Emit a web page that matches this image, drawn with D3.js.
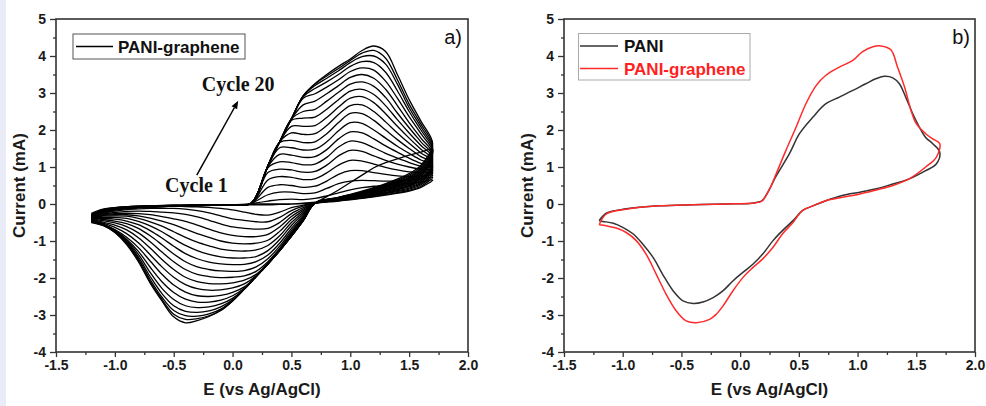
<!DOCTYPE html>
<html>
<head>
<meta charset="utf-8">
<script src="https://cdnjs.cloudflare.com/ajax/libs/d3/7.8.5/d3.min.js"></script>
<style>
  body { margin: 0; background: #fff; }
  svg text { font-family: "Liberation Sans", Arial, sans-serif; }
</style>
</head>
<body>
<div id="chart"></div>
<script>
// axis ticks
const xTicks = [-1.5, -1.0, -0.5, 0.0, 0.5, 1.0, 1.5, 2.0];
const xMinor = [-1.25, -0.75, -0.25, 0.25, 0.75, 1.25, 1.75];
const yTicks = [-4, -3, -2, -1, 0, 1, 2, 3, 4, 5];
const yMinor = [-3.5, -2.5, -1.5, -0.5, 0.5, 1.5, 2.5, 3.5, 4.5];

// panel a: 20 cycles, anodic sweep (fwdE) then cathodic sweep (revE)
const fwdE = [-1.2, -1.1, -1.0, -0.8, -0.5, 0.0, 0.15, 0.2, 0.3, 0.4, 0.5, 0.6, 0.7, 0.8, 0.9, 1.0, 1.1, 1.2, 1.3, 1.4, 1.5, 1.6, 1.7];
const revE = [1.6, 1.5, 1.3, 1.1, 0.9, 0.7, 0.6, 0.5, 0.4, 0.3, 0.2, 0.1, 0.0, -0.1, -0.2, -0.3, -0.4, -0.5, -0.6, -0.7, -0.8, -0.9, -1.0, -1.1, -1.2];

const cycleFwd = [
  [-0.25, -0.14, -0.1, -0.06, -0.04, -0.02, -0.01, 0.0, 0.0, 0.0, 0.0, 0.01, 0.04, 0.2, 0.38, 0.58, 0.78, 0.98, 1.12, 1.22, 1.32, 1.4, 1.48],
  [-0.28, -0.15, -0.1, -0.06, -0.04, -0.02, 0.0, 0.03, 0.08, 0.12, 0.13, 0.12, 0.15, 0.22, 0.3, 0.38, 0.44, 0.48, 0.5, 0.53, 0.56, 0.6, 0.65],
  [-0.3, -0.15, -0.11, -0.06, -0.04, -0.02, 0.0, 0.08, 0.25, 0.32, 0.32, 0.28, 0.3, 0.42, 0.55, 0.62, 0.64, 0.63, 0.62, 0.62, 0.64, 0.67, 0.72],
  [-0.32, -0.16, -0.11, -0.07, -0.04, -0.02, 0.0, 0.12, 0.45, 0.52, 0.5, 0.45, 0.48, 0.62, 0.8, 0.9, 0.9, 0.85, 0.8, 0.76, 0.74, 0.75, 0.78],
  [-0.33, -0.16, -0.11, -0.07, -0.04, -0.02, 0.0, 0.15, 0.65, 0.74, 0.72, 0.66, 0.68, 0.84, 1.05, 1.18, 1.16, 1.08, 0.99, 0.92, 0.87, 0.85, 0.84],
  [-0.34, -0.17, -0.12, -0.07, -0.04, -0.02, 0.0, 0.17, 0.85, 0.94, 0.92, 0.86, 0.88, 1.05, 1.3, 1.45, 1.42, 1.3, 1.18, 1.08, 1.0, 0.94, 0.9],
  [-0.35, -0.17, -0.12, -0.07, -0.05, -0.02, 0.0, 0.18, 0.98, 1.14, 1.12, 1.06, 1.08, 1.26, 1.54, 1.7, 1.66, 1.52, 1.37, 1.24, 1.12, 1.02, 0.95],
  [-0.36, -0.18, -0.12, -0.07, -0.05, -0.02, 0.0, 0.19, 1.0, 1.34, 1.32, 1.26, 1.28, 1.47, 1.76, 1.95, 1.92, 1.76, 1.57, 1.4, 1.24, 1.1, 1.0],
  [-0.37, -0.18, -0.12, -0.08, -0.05, -0.02, 0.0, 0.2, 1.02, 1.52, 1.52, 1.46, 1.48, 1.68, 1.98, 2.2, 2.18, 2.0, 1.78, 1.56, 1.37, 1.19, 1.05],
  [-0.38, -0.19, -0.13, -0.08, -0.05, -0.02, 0.0, 0.2, 1.03, 1.66, 1.72, 1.66, 1.68, 1.9, 2.2, 2.45, 2.44, 2.26, 2.0, 1.74, 1.5, 1.28, 1.1],
  [-0.39, -0.19, -0.13, -0.08, -0.05, -0.02, 0.0, 0.2, 1.03, 1.68, 1.92, 1.88, 1.9, 2.12, 2.42, 2.66, 2.68, 2.5, 2.22, 1.92, 1.64, 1.38, 1.15],
  [-0.4, -0.2, -0.13, -0.08, -0.05, -0.02, 0.0, 0.2, 1.03, 1.68, 2.1, 2.1, 2.12, 2.34, 2.62, 2.86, 2.9, 2.74, 2.44, 2.1, 1.78, 1.48, 1.2],
  [-0.41, -0.2, -0.14, -0.08, -0.05, -0.02, 0.0, 0.2, 1.03, 1.68, 2.26, 2.32, 2.35, 2.56, 2.82, 3.05, 3.1, 2.96, 2.66, 2.28, 1.92, 1.58, 1.25],
  [-0.42, -0.21, -0.14, -0.09, -0.05, -0.02, 0.0, 0.2, 1.03, 1.68, 2.3, 2.5, 2.56, 2.78, 3.02, 3.24, 3.3, 3.18, 2.88, 2.46, 2.06, 1.68, 1.3],
  [-0.43, -0.21, -0.14, -0.09, -0.05, -0.02, 0.0, 0.2, 1.03, 1.68, 2.3, 2.68, 2.78, 2.98, 3.2, 3.42, 3.5, 3.4, 3.1, 2.66, 2.2, 1.78, 1.35],
  [-0.44, -0.22, -0.15, -0.09, -0.05, -0.02, 0.0, 0.2, 1.03, 1.68, 2.3, 2.86, 2.98, 3.16, 3.36, 3.58, 3.68, 3.62, 3.32, 2.86, 2.36, 1.9, 1.4],
  [-0.45, -0.22, -0.15, -0.09, -0.06, -0.02, 0.0, 0.2, 1.03, 1.68, 2.3, 2.9, 3.12, 3.3, 3.5, 3.72, 3.85, 3.82, 3.56, 3.06, 2.5, 2.0, 1.45],
  [-0.46, -0.23, -0.15, -0.09, -0.06, -0.02, 0.0, 0.2, 1.03, 1.68, 2.3, 2.92, 3.2, 3.4, 3.6, 3.82, 3.98, 4.0, 3.78, 3.24, 2.6, 2.08, 1.5],
  [-0.47, -0.23, -0.16, -0.1, -0.06, -0.02, 0.0, 0.2, 1.03, 1.68, 2.3, 2.92, 3.24, 3.46, 3.66, 3.88, 4.08, 4.15, 3.94, 3.36, 2.7, 2.16, 1.56],
  [-0.5, -0.24, -0.16, -0.1, -0.06, -0.02, 0.0, 0.2, 1.03, 1.68, 2.3, 2.92, 3.25, 3.5, 3.72, 3.92, 4.15, 4.27, 4.12, 3.5, 2.82, 2.24, 1.62]
];

const cycleRev = [
  [0.75, 0.5, 0.3, 0.18, 0.1, 0.05, 0.02, 0.0, -0.01, -0.02, -0.02, -0.02, -0.02, -0.02, -0.03, -0.03, -0.03, -0.04, -0.04, -0.05, -0.07, -0.1, -0.13, -0.18, -0.28],
  [0.45, 0.35, 0.24, 0.15, 0.08, 0.02, -0.03, -0.1, -0.22, -0.3, -0.28, -0.22, -0.16, -0.12, -0.09, -0.08, -0.07, -0.06, -0.07, -0.08, -0.09, -0.12, -0.16, -0.22, -0.3],
  [0.48, 0.37, 0.26, 0.16, 0.09, 0.02, -0.06, -0.18, -0.36, -0.48, -0.48, -0.44, -0.4, -0.32, -0.24, -0.18, -0.14, -0.12, -0.12, -0.12, -0.13, -0.15, -0.19, -0.25, -0.32],
  [0.52, 0.4, 0.28, 0.17, 0.09, 0.02, -0.1, -0.26, -0.5, -0.66, -0.68, -0.66, -0.62, -0.54, -0.44, -0.35, -0.28, -0.24, -0.22, -0.2, -0.19, -0.2, -0.23, -0.27, -0.33],
  [0.55, 0.43, 0.3, 0.18, 0.1, 0.02, -0.14, -0.34, -0.62, -0.82, -0.88, -0.88, -0.85, -0.78, -0.68, -0.57, -0.47, -0.4, -0.34, -0.29, -0.26, -0.25, -0.26, -0.29, -0.34],
  [0.59, 0.46, 0.32, 0.2, 0.11, 0.02, -0.18, -0.42, -0.74, -0.98, -1.06, -1.08, -1.06, -1.0, -0.9, -0.8, -0.68, -0.56, -0.46, -0.38, -0.32, -0.29, -0.29, -0.31, -0.35],
  [0.62, 0.48, 0.34, 0.21, 0.12, 0.02, -0.22, -0.5, -0.86, -1.12, -1.24, -1.27, -1.26, -1.22, -1.13, -1.03, -0.9, -0.75, -0.6, -0.48, -0.39, -0.33, -0.32, -0.33, -0.36],
  [0.65, 0.5, 0.36, 0.22, 0.12, 0.02, -0.26, -0.58, -0.96, -1.26, -1.42, -1.46, -1.46, -1.43, -1.36, -1.26, -1.12, -0.94, -0.75, -0.59, -0.47, -0.39, -0.36, -0.36, -0.37],
  [0.68, 0.53, 0.37, 0.23, 0.13, 0.02, -0.3, -0.66, -1.06, -1.38, -1.56, -1.63, -1.64, -1.62, -1.57, -1.48, -1.34, -1.14, -0.92, -0.72, -0.56, -0.46, -0.41, -0.39, -0.38],
  [0.71, 0.55, 0.39, 0.24, 0.13, 0.02, -0.34, -0.72, -1.14, -1.48, -1.7, -1.8, -1.82, -1.81, -1.77, -1.7, -1.56, -1.35, -1.1, -0.86, -0.66, -0.53, -0.46, -0.42, -0.39],
  [0.75, 0.58, 0.41, 0.25, 0.14, 0.02, -0.37, -0.77, -1.2, -1.56, -1.82, -1.94, -1.98, -1.99, -1.96, -1.9, -1.77, -1.56, -1.3, -1.02, -0.78, -0.61, -0.51, -0.45, -0.4],
  [0.78, 0.6, 0.42, 0.26, 0.14, 0.02, -0.4, -0.8, -1.23, -1.6, -1.9, -2.06, -2.13, -2.16, -2.15, -2.1, -1.98, -1.77, -1.5, -1.19, -0.91, -0.7, -0.57, -0.49, -0.41],
  [0.81, 0.62, 0.44, 0.27, 0.15, 0.02, -0.42, -0.83, -1.25, -1.61, -1.94, -2.16, -2.27, -2.32, -2.33, -2.29, -2.18, -1.98, -1.7, -1.37, -1.05, -0.8, -0.63, -0.52, -0.42],
  [0.84, 0.65, 0.45, 0.28, 0.15, 0.02, -0.43, -0.85, -1.26, -1.62, -1.96, -2.24, -2.39, -2.47, -2.5, -2.48, -2.38, -2.19, -1.9, -1.54, -1.18, -0.9, -0.69, -0.54, -0.43],
  [0.87, 0.67, 0.47, 0.29, 0.16, 0.02, -0.44, -0.86, -1.26, -1.62, -1.96, -2.28, -2.48, -2.6, -2.65, -2.65, -2.57, -2.39, -2.1, -1.71, -1.28, -0.95, -0.71, -0.55, -0.44],
  [0.9, 0.7, 0.48, 0.3, 0.16, 0.02, -0.45, -0.87, -1.26, -1.62, -1.96, -2.3, -2.55, -2.7, -2.78, -2.8, -2.75, -2.58, -2.28, -1.85, -1.36, -0.98, -0.72, -0.55, -0.45],
  [0.94, 0.72, 0.5, 0.31, 0.17, 0.02, -0.45, -0.87, -1.26, -1.62, -1.96, -2.3, -2.59, -2.78, -2.89, -2.93, -2.9, -2.75, -2.42, -1.96, -1.43, -1.01, -0.73, -0.56, -0.46],
  [0.97, 0.75, 0.52, 0.32, 0.17, 0.02, -0.45, -0.87, -1.26, -1.62, -1.96, -2.3, -2.61, -2.84, -2.97, -3.03, -3.02, -2.88, -2.52, -2.04, -1.48, -1.04, -0.75, -0.57, -0.47],
  [1.01, 0.78, 0.53, 0.33, 0.18, 0.02, -0.45, -0.87, -1.26, -1.62, -1.96, -2.3, -2.62, -2.87, -3.02, -3.1, -3.12, -2.98, -2.58, -2.1, -1.52, -1.07, -0.76, -0.58, -0.48],
  [1.05, 0.82, 0.55, 0.35, 0.18, 0.02, -0.45, -0.87, -1.26, -1.62, -1.96, -2.3, -2.62, -2.88, -3.04, -3.15, -3.21, -3.05, -2.62, -2.14, -1.56, -1.1, -0.77, -0.58, -0.5]
];

// panel b: one loop per sample, potential (V) and current (mA)
const paniE = [-1.2, -1.14, -0.97, -0.69, -0.4, -0.12, 0.1, 0.165, 0.19, 0.25, 0.3, 0.42, 0.505, 0.62, 0.73, 0.845, 0.96, 1.07, 1.16, 1.23, 1.3, 1.356, 1.41, 1.47, 1.526, 1.58, 1.64, 1.7,
  1.67, 1.58, 1.44, 1.3, 1.16, 1.02, 0.87, 0.73, 0.62, 0.53, 0.45, 0.36, 0.28, 0.19, 0.108, 0.023, -0.062, -0.147, -0.23, -0.317, -0.4, -0.487, -0.57, -0.66, -0.74, -0.83, -0.91, -1.0, -1.08, -1.17, -1.2];
const paniI = [-0.45, -0.25, -0.13, -0.05, -0.02, 0.0, 0.02, 0.06, 0.1, 0.4, 0.72, 1.36, 1.9, 2.35, 2.71, 2.89, 3.07, 3.25, 3.39, 3.45, 3.41, 3.25, 2.89, 2.44, 2.08, 1.8, 1.63, 1.4,
  1.08, 0.9, 0.68, 0.54, 0.41, 0.32, 0.23, 0.09, -0.05, -0.18, -0.45, -0.72, -0.99, -1.36, -1.63, -1.85, -2.08, -2.35, -2.53, -2.65, -2.69, -2.62, -2.35, -1.9, -1.45, -1.08, -0.81, -0.63, -0.52, -0.47, -0.45];
const grapheneE = [-1.2, -1.14, -0.97, -0.69, -0.4, -0.12, 0.1, 0.165, 0.19, 0.25, 0.306, 0.39, 0.477, 0.56, 0.647, 0.73, 0.845, 0.96, 1.04, 1.13, 1.2, 1.285, 1.34, 1.4, 1.455, 1.5, 1.58, 1.64, 1.7,
  1.67, 1.58, 1.44, 1.3, 1.16, 1.02, 0.87, 0.73, 0.62, 0.53, 0.45, 0.36, 0.28, 0.19, 0.108, 0.023, -0.062, -0.147, -0.204, -0.26, -0.374, -0.46, -0.544, -0.63, -0.714, -0.8, -0.885, -0.97, -1.055, -1.14, -1.2];
const grapheneI = [-0.56, -0.27, -0.14, -0.05, -0.02, 0.0, 0.02, 0.05, 0.09, 0.4, 0.81, 1.45, 2.08, 2.71, 3.2, 3.48, 3.7, 3.88, 4.11, 4.25, 4.27, 4.16, 3.7, 3.16, 2.53, 2.17, 1.9, 1.76, 1.63,
  1.26, 1.0, 0.68, 0.5, 0.38, 0.27, 0.18, 0.09, -0.05, -0.18, -0.5, -0.81, -1.17, -1.49, -1.72, -1.99, -2.35, -2.76, -2.98, -3.12, -3.21, -3.16, -2.89, -2.44, -1.9, -1.36, -0.99, -0.77, -0.65, -0.59, -0.56];

const W = 986, H = 406;
const serif = "'Liberation Serif', 'Times New Roman', serif";
const svg = d3.select("#chart").append("svg").attr("width", W).attr("height", H);
svg.append("rect").attr("width", W).attr("height", H).attr("fill", "#fff");
svg.append("rect").attr("width", 6).attr("height", H).attr("fill", "#e9ecf7");

const loop = d3.line().x(d => d[0]).y(d => d[1]).curve(d3.curveCatmullRom.alpha(0.5));

function makePanel(left, right, top, bottom) {
  const x = d3.scaleLinear().domain([-1.5, 2.0]).range([left, right]);
  const y = d3.scaleLinear().domain([-4, 5]).range([bottom, top]);
  const g = svg.append("g");

  const styleAxis = a => {
    a.select(".domain").remove();
    a.selectAll(".tick line").attr("stroke", "#333").attr("stroke-width", 1.3);
    a.selectAll("text").attr("font-size", 14).attr("font-weight", "bold").attr("fill", "#1a1a1a");
  };
  g.append("g").attr("transform", `translate(0,${bottom})`)
    .call(d3.axisBottom(x).tickValues(xMinor).tickSize(3).tickFormat("")).call(styleAxis);
  g.append("g").attr("transform", `translate(0,${bottom})`)
    .call(d3.axisBottom(x).tickValues(xTicks).tickSize(5).tickPadding(3).tickFormat(d => d.toFixed(1))).call(styleAxis);
  g.append("g").attr("transform", `translate(${left},0)`)
    .call(d3.axisLeft(y).tickValues(yMinor).tickSize(3).tickFormat("")).call(styleAxis);
  g.append("g").attr("transform", `translate(${left},0)`)
    .call(d3.axisLeft(y).tickValues(yTicks).tickSize(6).tickPadding(4).tickFormat(d => String(d))).call(styleAxis);

  g.append("rect").attr("x", left).attr("y", top).attr("width", right - left).attr("height", bottom - top)
    .attr("fill", "none").attr("stroke", "#333").attr("stroke-width", 1.6);

  g.append("text").attr("x", (left + right) / 2).attr("y", 395).attr("text-anchor", "middle")
    .attr("font-size", 17).attr("font-weight", "bold").attr("fill", "#1a1a1a").text("E (vs Ag/AgCl)");
  g.append("text").attr("transform", `translate(${left - 31},${(top + bottom) / 2}) rotate(-90)`)
    .attr("text-anchor", "middle").attr("font-size", 17).attr("font-weight", "bold").attr("fill", "#1a1a1a")
    .text("Current (mA)");
  return { g, x, y };
}

// ---- panel a
const pa = makePanel(56, 468, 19, 352);
cycleFwd.forEach((fw, i) => {
  const pts = fwdE.map((e, j) => [pa.x(e), pa.y(fw[j])])
    .concat(revE.map((e, j) => [pa.x(e), pa.y(cycleRev[i][j])]));
  pa.g.append("path").attr("d", loop(pts)).attr("fill", "none")
    .attr("stroke", "#000").attr("stroke-width", 1.3);
});

pa.g.append("rect").attr("x", 73).attr("y", 34).attr("width", 172).attr("height", 25)
  .attr("fill", "#fff").attr("stroke", "#555").attr("stroke-width", 1);
pa.g.append("line").attr("x1", 76).attr("x2", 113).attr("y1", 46.5).attr("y2", 46.5)
  .attr("stroke", "#000").attr("stroke-width", 1.3);
pa.g.append("text").attr("x", 118).attr("y", 52.5).attr("font-size", 17).attr("font-weight", "bold")
  .attr("fill", "#111").text("PANI-graphene");
pa.g.append("text").attr("x", 462).attr("y", 43.5).attr("text-anchor", "end").attr("font-size", 20)
  .attr("fill", "#111").text("a)");

// arrow from Cycle 1 to Cycle 20
const a0 = [pa.x(-0.304), pa.y(0.78)], a1 = [pa.x(0.048), pa.y(2.79)];
const ang = Math.atan2(a1[1] - a0[1], a1[0] - a0[0]);
const hl = 8, hw = 3.2;
const base = [a1[0] - hl * Math.cos(ang), a1[1] - hl * Math.sin(ang)];
pa.g.append("line").attr("x1", a0[0]).attr("y1", a0[1]).attr("x2", base[0]).attr("y2", base[1])
  .attr("stroke", "#000").attr("stroke-width", 1.5);
pa.g.append("path").attr("d", d3.line()([
  a1,
  [base[0] + hw * Math.sin(ang), base[1] - hw * Math.cos(ang)],
  [base[0] - hw * Math.sin(ang), base[1] + hw * Math.cos(ang)]
]) + "Z").attr("fill", "#000");
pa.g.append("text").attr("x", pa.x(-0.261)).attr("y", pa.y(3.05))
  .style("font-family", serif).attr("font-size", 20)
  .attr("font-weight", "bold").attr("fill", "#111").text("Cycle 20");
pa.g.append("text").attr("x", pa.x(-0.573)).attr("y", pa.y(0.32))
  .style("font-family", serif).attr("font-size", 20)
  .attr("font-weight", "bold").attr("fill", "#111").text("Cycle 1");

// ---- panel b
const pb = makePanel(564, 975, 19, 352);
const seriesB = [
  { e: paniE, i: paniI, color: "#333" },
  { e: grapheneE, i: grapheneI, color: "#ff2a2a" }
];
seriesB.forEach(s => {
  const pts = s.e.map((e, j) => [pb.x(e), pb.y(s.i[j])]);
  pb.g.append("path").attr("d", loop(pts)).attr("fill", "none")
    .attr("stroke", s.color).attr("stroke-width", 1.5);
});

pb.g.append("rect").attr("x", 578.5).attr("y", 33.5).attr("width", 171.5).attr("height", 46.5)
  .attr("fill", "#fff").attr("stroke", "#aaa").attr("stroke-width", 1);
[["PANI", "#333", "#111", 46], ["PANI-graphene", "#ff2a2a", "#ff1f1f", 68.5]].forEach(([label, lc, tc, yy]) => {
  pb.g.append("line").attr("x1", 580).attr("x2", 618).attr("y1", yy).attr("y2", yy)
    .attr("stroke", lc).attr("stroke-width", 1.5);
  pb.g.append("text").attr("x", 624).attr("y", yy + 6).attr("font-size", 17).attr("font-weight", "bold")
    .attr("fill", tc).text(label);
});
pb.g.append("text").attr("x", 970).attr("y", 44).attr("text-anchor", "end").attr("font-size", 20)
  .attr("fill", "#111").text("b)");
</script>
</body>
</html>
